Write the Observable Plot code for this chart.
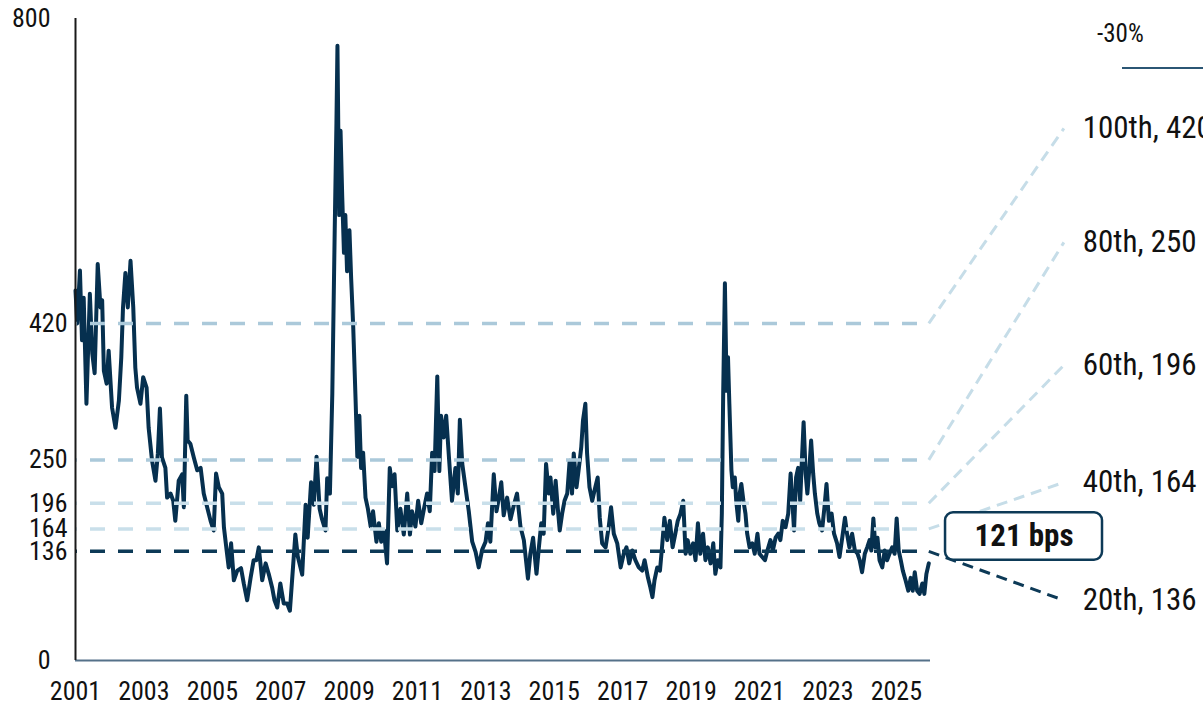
<!DOCTYPE html>
<html>
<head>
<meta charset="utf-8">
<script src="https://cdn.jsdelivr.net/npm/d3@7"></script>
<script src="https://cdn.jsdelivr.net/npm/@observablehq/plot@0.6"></script>
<style>
  html, body { margin: 0; padding: 0; background: #fff; overflow: hidden; }
  #wrap { position: relative; width: 1203px; height: 707px; }
  #legend { position: absolute; left: 1097px; top: 19px; font-family: Roboto, sans-serif; font-size: 25px; font-stretch: 85%; color: #111; }
  #legline { position: absolute; left: 1122px; top: 67px; width: 81px; height: 2px; background: #2b5674; }
</style>
</head>
<body>
<div id="wrap">
  <div id="chart"></div>
  <div id="legend">-30%</div>
  <div id="legline"></div>
</div>
<script>
// ---------- data (decimal years, spread in bps) ----------
const years = [
  2001.00,2001.05,2001.13,2001.19,2001.24,2001.32,2001.42,2001.49,2001.56,2001.65,2001.73,2001.78,2001.83,2001.91,2001.97,
  2002.07,2002.17,2002.27,2002.34,2002.39,2002.46,2002.53,2002.61,2002.69,2002.75,2002.80,2002.90,2002.98,
  2003.08,2003.14,2003.24,2003.34,2003.41,2003.47,2003.53,2003.63,2003.68,2003.78,2003.86,2003.92,
  2004.02,2004.12,2004.17,2004.24,2004.28,2004.36,2004.46,2004.56,2004.66,2004.75,2004.85,2004.95,
  2005.04,2005.11,2005.19,2005.29,2005.34,2005.42,2005.48,2005.55,2005.63,2005.73,2005.84,2005.92,
  2006.02,2006.12,2006.21,2006.29,2006.36,2006.46,2006.56,2006.65,2006.75,2006.82,2006.90,2006.99,
  2007.09,2007.19,2007.27,2007.43,2007.50,2007.63,2007.73,2007.79,2007.89,2007.97,
  2008.05,2008.14,2008.21,2008.31,2008.36,2008.44,2008.51,2008.58,2008.63,2008.66,2008.71,2008.75,2008.80,2008.85,2008.89,2008.94,
  2009.01,2009.06,2009.12,2009.19,2009.24,2009.30,2009.35,2009.41,2009.48,2009.55,2009.63,2009.70,2009.80,2009.87,2009.94,
  2010.02,2010.11,2010.19,2010.26,2010.33,2010.41,2010.50,2010.60,2010.70,2010.78,2010.84,2010.94,
  2011.02,2011.11,2011.19,2011.28,2011.36,2011.43,2011.50,2011.58,2011.64,2011.69,2011.77,2011.84,2011.92,
  2012.01,2012.11,2012.18,2012.24,2012.31,2012.40,2012.50,2012.60,2012.70,2012.79,2012.89,2012.99,
  2013.06,2013.13,2013.23,2013.31,2013.38,2013.45,2013.52,2013.62,2013.72,2013.82,2013.91,2014.01,
  2014.11,2014.23,2014.30,2014.38,2014.48,2014.55,2014.62,2014.69,2014.76,2014.84,2014.89,2014.97,
  2015.04,2015.10,2015.16,2015.23,2015.30,2015.38,2015.45,2015.52,2015.57,2015.65,2015.72,2015.79,2015.84,2015.91,2015.96,
  2016.03,2016.11,2016.20,2016.27,2016.33,2016.40,2016.50,2016.59,2016.66,2016.74,2016.84,2016.94,
  2017.03,2017.11,2017.19,2017.28,2017.37,2017.47,2017.57,2017.64,2017.74,2017.81,2017.87,2017.93,
  2018.01,2018.09,2018.15,2018.22,2018.30,2018.38,2018.46,2018.54,2018.61,2018.69,2018.77,2018.84,2018.90,2018.98,
  2019.06,2019.13,2019.20,2019.27,2019.35,2019.42,2019.49,2019.57,2019.65,2019.71,2019.78,2019.86,2019.90,2019.94,2019.99,
  2020.04,2020.08,2020.12,2020.18,2020.22,2020.28,2020.32,2020.38,2020.42,2020.47,2020.53,2020.59,2020.64,2020.71,2020.79,2020.86,2020.94,
  2021.00,2021.08,2021.16,2021.23,2021.32,2021.39,2021.47,2021.55,2021.61,2021.68,2021.76,2021.84,2021.91,2021.96,
  2022.01,2022.07,2022.13,2022.19,2022.23,2022.29,2022.35,2022.40,2022.46,2022.51,2022.57,2022.62,2022.69,2022.75,2022.83,2022.90,2022.96,
  2023.03,2023.11,2023.18,2023.27,2023.34,2023.42,2023.50,2023.56,2023.63,2023.71,2023.79,2023.87,2023.93,
  2024.00,2024.08,2024.15,2024.22,2024.27,2024.33,2024.39,2024.45,2024.51,2024.59,2024.66,2024.73,2024.80,2024.88,2024.95,
  2025.01,2025.07,2025.13,2025.19,2025.27,2025.35,2025.42,2025.48,2025.54,2025.61,2025.68,2025.76,2025.82,2025.88,2025.95
];
const spreads = [
  461,420,486,399,452,320,457,383,358,494,440,449,361,345,386,
  315,290,324,378,440,483,440,498,440,365,340,320,353,
  340,290,249,224,258,314,253,240,203,208,199,174,
  224,232,191,330,274,270,253,237,240,208,191,174,
  162,233,216,208,166,137,116,146,100,112,115,96,
  75,103,125,125,141,100,121,108,91,75,66,96,
  71,71,62,157,130,107,194,153,222,194,
  254,189,176,162,227,208,333,536,669,766,555,660,577,508,555,485,
  536,476,416,324,254,305,240,259,203,189,167,186,148,171,148,
  162,121,240,217,232,162,189,157,208,157,186,167,
  199,171,189,208,186,259,236,354,236,305,278,305,254,
  199,240,208,300,245,217,186,148,135,116,138,148,
  171,148,232,186,203,222,181,203,176,194,208,167,
  150,102,133,153,108,141,171,158,245,208,228,183,
  224,191,162,183,199,208,249,208,258,216,240,266,299,320,258,
  216,199,216,228,178,146,141,166,191,158,146,116,
  133,141,121,137,125,116,112,125,103,91,79,100,
  116,112,141,178,150,174,141,158,174,183,199,133,150,133,
  146,125,171,133,158,125,141,121,146,108,125,116,183,333,470,
  336,378,320,237,216,228,199,174,208,220,199,183,158,141,146,133,158,
  133,129,125,137,150,137,153,158,150,174,166,183,233,199,
  162,228,240,199,240,297,233,208,240,274,233,208,183,171,162,191,220,
  174,183,158,146,129,153,178,158,141,158,137,133,125,
  110,133,141,150,137,177,141,153,125,116,137,125,133,141,133,
  177,137,125,112,100,87,103,87,110,87,83,96,83,108,121
];

// percentile levels
const pctNames  = ["100th", "80th", "60th", "40th", "20th"];
const pctValues = [420, 250, 196, 164, 136];

// axis ticks
const yTicksInner = [136, 164, 196, 250, 420];
const yTicksEnds  = [0, 800];
const xTickYears = [2001, 2003, 2005, 2007, 2009, 2011, 2013, 2015, 2017, 2019, 2021, 2023, 2025];
const xDomainYears = [2001, 2026];

// ---------- layout (in data units, placed through the scales) ----------
const pctColors   = ["#abc9da", "#abc9da", "#c9dfea", "#c9dfea", "#0d3a57"];
const linkColors  = ["#c6dde8", "#c6dde8", "#c6dde8", "#c6dde8", "#0d3a57"];
const labelLevels = [663, 521, 368, 222, 75];   // y (bps units) of right-hand labels
const linkEndYear = 2029.9;
const labelYear   = 2030.45;
const boxYears    = [2026.44, 2031.03];
const boxLevels   = [125, 184];

// ---------- helpers ----------
const yr = d => {
  const y = Math.floor(d), f = d - y;
  const a = Date.UTC(y, 0, 1), b = Date.UTC(y + 1, 0, 1);
  return new Date(a + f * (b - a));
};

const series = years.map((t, i) => ({date: yr(t), value: spreads[i]}));
const start = yr(xDomainYears[0]);
const end = yr(xDomainYears[1]);
const lastDate = series[series.length - 1].date;
const current = spreads[spreads.length - 1];

const pct = pctNames.map((n, i) => ({
  name: n, value: pctValues[i], color: pctColors[i], link: linkColors[i], ly: labelLevels[i]
}));

const chart = Plot.plot({
  width: 1203,
  height: 707,
  marginLeft: 75,
  marginRight: 273,
  marginTop: 18,
  marginBottom: 47,
  style: {fontFamily: "Roboto, sans-serif", fontSize: "26px", color: "#111", background: "white", overflow: "visible", fontStretch: "85%"},
  color: {type: "identity"},
  x: {
    type: "utc", domain: [start, end],
    ticks: xTickYears.map(yr),
    tickFormat: d => String(d.getUTCFullYear()),
    tickSize: 0, tickPadding: 21, label: null
  },
  y: {domain: [0, 800], ticks: yTicksInner, tickSize: 0, tickPadding: 8, label: null},
  marks: [
    // data line
    Plot.line(series, {x: "date", y: "value", stroke: "#06304f", strokeWidth: 4, strokeLinejoin: "round", strokeLinecap: "round"}),
    // percentile dashed levels
    Plot.ruleY(pct, {
      y: "value", x1: () => start, x2: () => lastDate,
      stroke: "color", strokeWidth: 3.5, strokeDasharray: "15,13", strokeDashoffset: 13
    }),
    // connectors to labels
    Plot.link(pct, {
      x1: () => lastDate, y1: "value", x2: () => yr(linkEndYear), y2: "ly",
      stroke: "link", strokeWidth: 3, strokeDasharray: "11,7"
    }),
    // labels
    Plot.text(pct, {
      x: () => yr(labelYear), y: "ly", text: d => `${d.name}, ${d.value}`,
      textAnchor: "start", fontSize: 31, fill: "#111"
    }),
    // current value box
    Plot.rect([current], {
      x1: () => yr(boxYears[0]), x2: () => yr(boxYears[1]),
      y1: () => boxLevels[0], y2: () => boxLevels[1],
      fill: "white", stroke: "#0d3a57", strokeWidth: 2.5, rx: 8
    }),
    Plot.text([current], {
      x: () => yr((boxYears[0] + boxYears[1]) / 2), y: () => (boxLevels[0] + boxLevels[1]) / 2,
      text: d => `${d} bps`, fontWeight: "bold", fontSize: 31, fill: "#111"
    }),
    // end labels of the y axis (0 and 800), set further left as in the original
    Plot.text(yTicksEnds, {
      x: () => start, y: d => d, text: d => String(d),
      textAnchor: "end", dx: -25, fontSize: 26, fill: "#111"
    }),
    // axis lines
    Plot.ruleY([0], {x1: () => start, x2: () => end, stroke: "#557189", strokeWidth: 2}),
    Plot.ruleX([start], {y1: () => 0, y2: () => 800, stroke: "#1a1a1a", strokeWidth: 2})
  ]
});

document.getElementById("chart").appendChild(chart);
</script>
</body>
</html>
